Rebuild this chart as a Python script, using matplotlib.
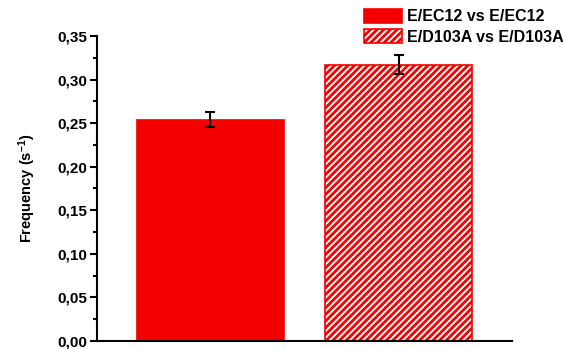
import matplotlib
matplotlib.use("Agg")
import matplotlib.pyplot as plt
from matplotlib.ticker import FuncFormatter, MultipleLocator

labels = ["E/EC12 vs E/EC12", "E/D103A vs E/D103A"]
freq = [0.254, 0.317]
freq_err = [0.009, 0.011]
hatches = ["", "/////"]

plt.rcParams["font.family"] = ["Liberation Sans", "DejaVu Sans"]
plt.rcParams["font.weight"] = "bold"
plt.rcParams["mathtext.fontset"] = "custom"
plt.rcParams["mathtext.bf"] = "Liberation Sans:bold"
plt.rcParams["mathtext.rm"] = "Liberation Sans:bold"
plt.rcParams["mathtext.default"] = "bf"
plt.rcParams["hatch.linewidth"] = 2.0
plt.rcParams["hatch.color"] = "#f40000"

red = "#f40000"
fig = plt.figure(figsize=(5.63, 3.49), dpi=100)
ax = fig.add_axes([0.1723, 0.023, 0.7371, 0.874])

x = [1, 2]
for xi, v, e, h, lab in zip(x, freq, freq_err, hatches, labels):
    ax.bar(xi, v, width=0.78, color="white" if h else red, edgecolor=red,
           hatch=h, linewidth=1.2, label=lab, zorder=2)
    ax.errorbar(xi, v, yerr=e, fmt="none", ecolor="black", elinewidth=1.5,
                capsize=3.5, capthick=1.5, zorder=3)

ax.set_xlim(0.4, 2.6)
ax.set_ylim(0, 0.35)
ax.yaxis.set_major_locator(MultipleLocator(0.05))
ax.yaxis.set_minor_locator(MultipleLocator(0.025))
ax.yaxis.set_major_formatter(FuncFormatter(lambda v, p: f"{v:.2f}".replace(".", ",")))
ax.set_xticks([])
for s in ["top", "right"]:
    ax.spines[s].set_visible(False)
for s in ["left", "bottom"]:
    ax.spines[s].set_linewidth(1.5)
ax.tick_params(axis="y", which="major", length=5, width=1.5, labelsize=11, pad=2)
ax.tick_params(axis="y", which="minor", length=3, width=1.5)
ax.set_ylabel("Frequency (s$^{-1}$)", fontsize=10.5, fontweight="bold", labelpad=14)

ax.legend(loc="upper left", bbox_to_anchor=(0.6465, 0.975), bbox_transform=fig.transFigure,
          frameon=False, fontsize=11.5, handlelength=2.4, handleheight=1.0,
          handletextpad=0.3, labelspacing=0.3, borderpad=0, borderaxespad=0)

fig.savefig("out.png", dpi=100)
